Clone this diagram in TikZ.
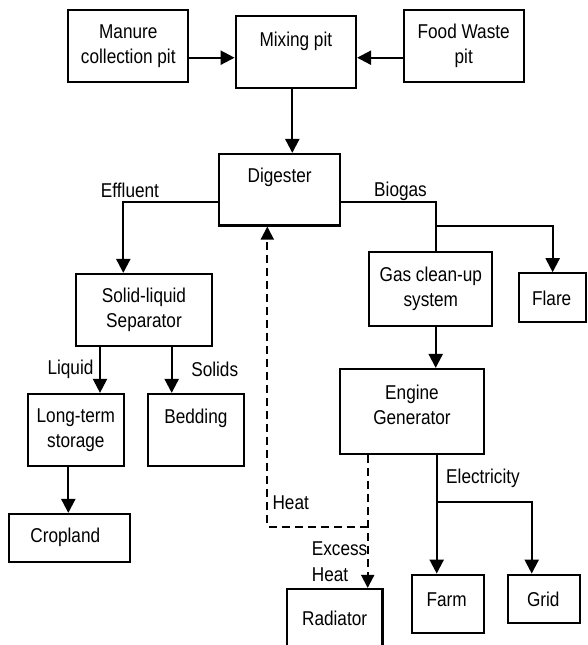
\documentclass[tikz,border=0pt]{standalone}
\usepackage{fontspec}
\setmainfont{Liberation Sans}[FakeStretch=0.86]
\usetikzlibrary{arrows.meta}
\newcommand\dgfont{\fontsize{20}{25}\selectfont}
\begin{document}
\begin{tikzpicture}[x=1pt,y=-1pt,
  box/.style={draw,line width=2.2pt,rectangle,inner sep=0pt,align=center,font=\dgfont},
  txt/.style={inner sep=0pt,align=center,font=\dgfont},
  arr/.style={line width=2.2pt,-{Triangle[width=14pt,length=14pt]}},
  ln/.style={line width=2.2pt},
  heat/.style={line width=2pt,dash pattern=on 8pt off 5pt},
  harr/.style={heat,-{Triangle[width=13pt,length=13pt]}}]
\useasboundingbox (0,0) rectangle (587,645);
\clip (0,0) rectangle (587,645);
\fill[white] (0,0) rectangle (587,645);
% boxes
\node[box,minimum width=120pt,minimum height=71.7pt] (man) at (128.3,45.85) {Manure\\collection pit};
\node[box,minimum width=120.3pt,minimum height=72.3pt] (mix) at (295.85,52.15) {};
\node[txt] (mixt) at (295.85,41) {Mixing pit};
\node[box,minimum width=120pt,minimum height=71.7pt] (food) at (463.7,45.85) {Food Waste\\pit};
\node[box,minimum width=120.7pt,minimum height=71.5pt] (dig) at (279.65,189.75) {};
\node[txt] (digt) at (279.65,177.5) {Digester};
\node[box,minimum width=136pt,minimum height=72pt] (sep) at (144,310) {Solid-liquid\\Separator};
\node[box,minimum width=96.3pt,minimum height=71.7pt] (lts) at (75.85,429.85) {Long-term\\storage};
\node[box,minimum width=96.3pt,minimum height=71.7pt] (bed) at (195.85,429.85) {};
\node[txt] (bedt) at (195.85,418.5) {Bedding};
\node[box,minimum width=120.7pt,minimum height=47.7pt] (crop) at (69.65,537.85) {};
\node[txt] (cropt) at (65.3,537) {Cropland};
\node[box,minimum width=123pt,minimum height=74pt] (gas) at (430.8,288.7) {Gas clean-up\\system};
\node[box,minimum width=66.7pt,minimum height=48.7pt] (flare) at (552.65,297.65) {};
\node[txt] (flaret) at (551.7,298) {Flare};
\node[box,minimum width=144pt,minimum height=85pt] (eng) at (412,411.5) {};
\node[txt] (engt) at (412,405) {Engine\\Generator};
\node[box,minimum width=72pt,minimum height=58.6pt] (farm) at (448,604) {};
\node[txt] (farmt) at (446.7,599.5) {Farm};
\node[box,minimum width=72.3pt,minimum height=48pt] (grid) at (543.85,598.7) {};
\node[txt] (gridt) at (543.3,599) {Grid};
\node[box,minimum width=95.8pt,minimum height=72pt] (rad) at (334.6,625) {};
\node[txt] (radt) at (334.6,618.5) {Radiator};
% labels
\node[txt] (leff) at (130,190) {Effluent};
\node[txt] (lbio) at (400.5,191.5) {Biogas};
\node[txt] (lliq) at (70.5,369) {Liquid};
\node[txt] (lsol) at (214.7,369) {Solids};
\node[txt] (lheat) at (290.7,502.3) {Heat};
\node[txt,align=left,anchor=west] (lex) at (311.7,561.5) {Excess\\[1pt]Heat};
\node[txt] (lele) at (483,478.3) {Electricity};
% connectors
\draw[arr] (man.east |- 0,57.7) -- (mix.west |- 0,57.7);
\draw[arr] (food.west |- 0,57.7) -- (mix.east |- 0,57.7);
\draw[arr] (mix.south -| 292.3,0) -- (dig.north -| 292.3,0);
\draw[arr] (dig.west |- 0,201.7) -| (sep.north -| 123.3,0);
\draw[ln] (dig.east |- 0,201.7) -| (gas.north -| 435.7,0);
\coordinate (bj) at (435.7,225.7);
\draw[arr] (bj) -| (flare.north);
\draw[arr] (gas.south -| 435.7,0) -- (eng.north -| 435.7,0);
\draw[arr] (sep.south -| 100,0) -- (lts.north -| 100,0);
\draw[arr] (sep.south -| 171.7,0) -- (bed.north -| 171.7,0);
\draw[arr] (lts.south -| 68.3,0) -- (crop.north -| 68.3,0);
\draw[arr] (eng.south -| 436.7,0) -- (farm.north -| 436.7,0);
\coordinate (ej) at (436.7,502.3);
\draw[arr] (ej) -| (grid.north -| 531.7,0);
\coordinate (hj) at (367.7,526.7);
\draw[harr] (eng.south -| 367.7,0) -- (rad.north -| 367.7,0);
\draw[harr] (hj) -| (dig.south -| 267.3,0);
\end{tikzpicture}
\end{document}
